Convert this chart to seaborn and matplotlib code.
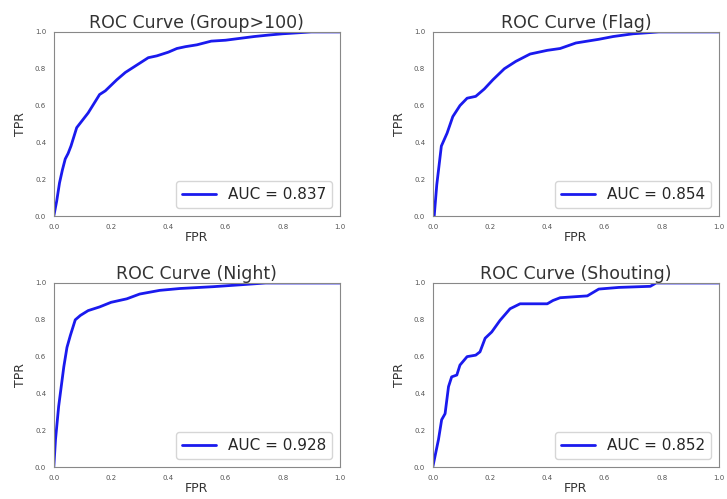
import pandas as pd
import seaborn as sns
import matplotlib.pyplot as plt

titles = ['Group>100', 'Flag', 'Night', 'Shouting']
aucs = [0.837, 0.854, 0.928, 0.852]

fpr_group = [0.0, 0.01, 0.02, 0.03, 0.04, 0.05, 0.06, 0.07, 0.08, 0.10, 0.12, 0.14, 0.16, 0.18, 0.20,
             0.22, 0.25, 0.28, 0.30, 0.33, 0.36, 0.40, 0.43, 0.46, 0.50, 0.55, 0.60, 0.65, 0.70, 0.75,
             0.80, 0.85, 0.90, 1.0]
tpr_group = [0.0, 0.08, 0.18, 0.25, 0.31, 0.34, 0.38, 0.43, 0.48, 0.52, 0.56, 0.61, 0.66, 0.68, 0.71,
             0.74, 0.78, 0.81, 0.83, 0.86, 0.87, 0.89, 0.91, 0.92, 0.93, 0.95, 0.955, 0.965, 0.975, 0.983,
             0.99, 0.995, 1.0, 1.0]

fpr_flag = [0.0, 0.005, 0.014, 0.03, 0.05, 0.07, 0.095, 0.12, 0.15, 0.18, 0.21, 0.25, 0.29, 0.34,
            0.40, 0.445, 0.50, 0.58, 0.63, 0.70, 0.79, 1.0]
tpr_flag = [0.0, 0.0, 0.17, 0.38, 0.45, 0.54, 0.60, 0.64, 0.65, 0.69, 0.74, 0.80, 0.84, 0.88,
            0.90, 0.91, 0.94, 0.96, 0.975, 0.99, 1.0, 1.0]

fpr_night = [0.0, 0.006, 0.017, 0.035, 0.046, 0.058, 0.075, 0.093, 0.12, 0.16, 0.20, 0.255, 0.30,
             0.37, 0.44, 0.557, 0.65, 0.74, 1.0]
tpr_night = [0.0, 0.15, 0.33, 0.545, 0.65, 0.716, 0.80, 0.824, 0.85, 0.87, 0.895, 0.914, 0.94,
             0.96, 0.97, 0.98, 0.99, 1.0, 1.0]

fpr_shout = [0.0, 0.008, 0.02, 0.031, 0.043, 0.055, 0.066, 0.084, 0.095, 0.12, 0.15, 0.165, 0.183,
             0.206, 0.235, 0.27, 0.305, 0.40, 0.42, 0.445, 0.54, 0.58, 0.65, 0.76, 0.78, 1.0]
tpr_shout = [0.0, 0.06, 0.15, 0.257, 0.29, 0.437, 0.49, 0.50, 0.554, 0.60, 0.608, 0.626, 0.70,
             0.734, 0.797, 0.86, 0.887, 0.887, 0.905, 0.92, 0.93, 0.967, 0.976, 0.982, 1.0, 1.0]

curves = [(fpr_group, tpr_group), (fpr_flag, tpr_flag), (fpr_night, tpr_night), (fpr_shout, tpr_shout)]

sns.set_style('white')

fig, axes = plt.subplots(2, 2, figsize=(7.27, 4.99), dpi=100)
fig.subplots_adjust(left=0.074, right=0.989, top=0.936, bottom=0.064, wspace=0.324, hspace=0.364)

for ax, title, auc, (fpr, tpr) in zip(axes.flat, titles, aucs, curves):
    df = pd.DataFrame({'FPR': fpr, 'TPR': tpr})
    sns.lineplot(data=df, x='FPR', y='TPR', ax=ax, color='#1a1aee', linewidth=2,
                 estimator=None, sort=False, label=f'AUC = {auc}')
    ax.set_xlim(0, 1)
    ax.set_ylim(0, 1)
    ax.set_xticks([0, 0.2, 0.4, 0.6, 0.8, 1.0])
    ax.set_yticks([0, 0.2, 0.4, 0.6, 0.8, 1.0])
    ax.tick_params(labelsize=5, length=2, colors='#555555')
    ax.set_title(f'ROC Curve ({title})', fontsize=12.5, color='#333333', pad=3)
    ax.set_xlabel('FPR', fontsize=9, color='#333333', labelpad=1)
    ax.set_ylabel('TPR', fontsize=9, color='#333333', labelpad=6)
    for sp in ax.spines.values():
        sp.set_color('#888888')
        sp.set_linewidth(0.8)
    ax.legend(loc='lower right', fontsize=11, frameon=True, handlelength=2.2)

plt.savefig('out.png', dpi=100)
